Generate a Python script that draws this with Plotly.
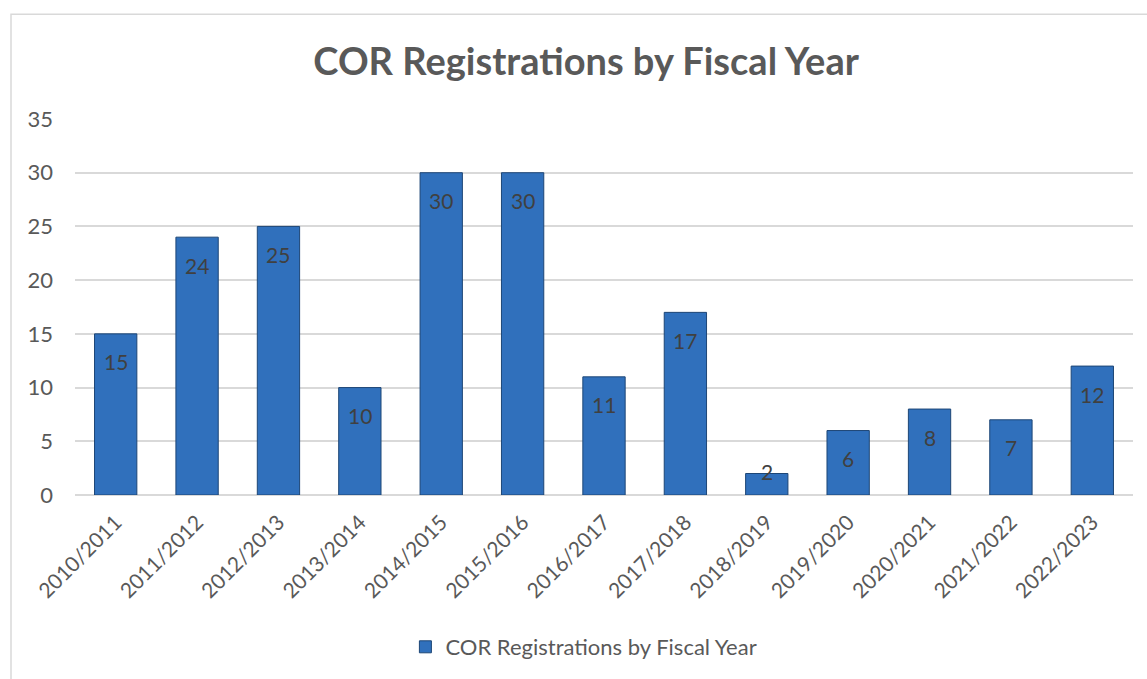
import plotly.graph_objects as go

categories = ["2010/2011", "2011/2012", "2012/2013", "2013/2014", "2014/2015",
              "2015/2016", "2016/2017", "2017/2018", "2018/2019", "2019/2020",
              "2020/2021", "2021/2022", "2022/2023"]
values = [15, 24, 25, 10, 30, 30, 11, 17, 2, 6, 8, 7, 12]
y_ticks = [0, 5, 10, 15, 20, 25, 30, 35]
series_name = "COR Registrations by Fiscal Year"
title_text = "COR Registrations by Fiscal Year"

W, H = 1147, 679
ML, MR, MT, MB = 75, 14, 119, 183
plot_h = H - MT - MB
ymax = 35
FONT = "Lato"
GREY = "#595959"

fig = go.Figure()
fig.add_trace(go.Bar(
    x=categories, y=values, name=series_name,
    marker=dict(color="#3070BC", line=dict(color="#1D4676", width=1)),
    showlegend=True,
))

for c, v in zip(categories, values):
    h_px = v * plot_h / ymax
    shift = -min(28, h_px - 24)
    fig.add_annotation(x=c, y=v, text=str(v), showarrow=False, yshift=shift,
                       font=dict(family=FONT, size=21, color="#404040"))

# chart border
fig.add_shape(type="rect", xref="paper", yref="paper",
              x0=(11 - ML) / (W - ML - MR), x1=(1152 - ML) / (W - ML - MR),
              y0=(H - MB - 690) / plot_h, y1=(H - MB - 14) / plot_h,
              line=dict(color="#D9D9D9", width=1.5), layer="below")

fig.update_layout(
    width=W, height=H,
    margin=dict(l=ML, r=MR, t=MT, b=MB),
    paper_bgcolor="white", plot_bgcolor="white",
    title=dict(text=title_text, x=0.511, xanchor="center", y=1 - 62 / H, yanchor="middle",
               font=dict(family=FONT, size=38, color=GREY, weight="bold")),
    bargap=0.48,
    font=dict(family=FONT, color=GREY),
    legend=dict(orientation="h", x=0.481, xanchor="center", y=(H - MB - 647) / plot_h,
                yanchor="middle", font=dict(family=FONT, size=22, color=GREY)),
    xaxis=dict(tickangle=-45, tickfont=dict(family=FONT, size=21, color=GREY),
               showgrid=False, showline=False, ticks="", ticklabelstandoff=10),
    yaxis=dict(range=[0, ymax], tickvals=y_ticks, showgrid=True, gridcolor="#D9D9D9",
               gridwidth=1.5, zeroline=True, zerolinecolor="#D9D9D9", zerolinewidth=1.5,
               tickfont=dict(family=FONT, size=22, color=GREY), ticks="",
               ticklabelstandoff=21),
)

fig.write_html("out.html")
